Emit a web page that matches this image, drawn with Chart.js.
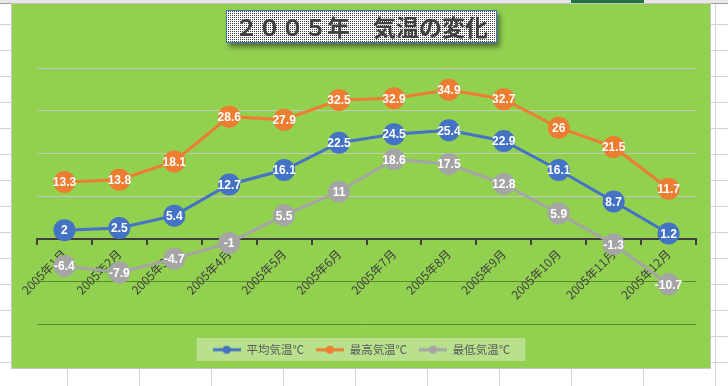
<!DOCTYPE html>
<html>
<head>
<meta charset="utf-8">
<script src="https://cdn.jsdelivr.net/npm/chart.js@4"></script>
<style>
  html, body { margin: 0; padding: 0; }
  body {
    width: 728px; height: 386px; overflow: hidden; position: relative;
    background-color: #fff;
    background-image:
      linear-gradient(to right, #d4d4d4 1px, transparent 1px),
      linear-gradient(to bottom, #d4d4d4 1px, transparent 1px);
    background-size: 72px 26px;
    background-position: 67px 24px;
  }
  #topbar { position: absolute; left: 0; top: 0; width: 728px; height: 3px; background: #e6e6e6; border-bottom: 1px solid #a0a0a0; }
  #sel { position: absolute; left: 571px; top: 0; width: 73px; height: 4px; background: #217346; }
  #frame {
    position: absolute; left: 11px; top: 3px; width: 698px; height: 364px;
    border: 1px solid #c6c6c6; background: #92d050;
  }
  #title {
    position: absolute; left: 226px; top: 10px; width: 269px; height: 31px;
    border: 1px solid #4472c4;
    background: #fff repeating-conic-gradient(#3a3a3a 0 25%, #fff 0 100%) 0 0 / 2px 2px;
    box-shadow: 3px 4px 5px rgba(0, 0, 0, 0.45);
    font: bold 23px "Noto Sans CJK JP", sans-serif;
    color: #404040; text-align: center; line-height: 31px;
  }
</style>
</head>
<body>
<div id="topbar"></div>
<div id="sel"></div>
<div id="frame"><canvas id="tempChart"></canvas></div>
<div id="title">２００５年　気温の変化</div>
<script>
const months = ['2005年1月', '2005年2月', '2005年3月', '2005年4月', '2005年5月', '2005年6月',
    '2005年7月', '2005年8月', '2005年9月', '2005年10月', '2005年11月', '2005年12月'];
const avgTemp = [2, 2.5, 5.4, 12.7, 16.1, 22.5, 24.5, 25.4, 22.9, 16.1, 8.7, 1.2];
const maxTemp = [13.3, 13.8, 18.1, 28.6, 27.9, 32.5, 32.9, 34.9, 32.7, 26, 21.5, 11.7];
const minTemp = [-6.4, -7.9, -4.7, -1, 5.5, 11, 18.6, 17.5, 12.8, 5.9, -1.3, -10.7];
const seriesNames = ['平均気温℃', '最高気温℃', '最低気温℃'];
const seriesColors = ['#4472c4', '#ed7d31', '#a5a5a5'];

// little line+dot picture for the legend
const legendIcon = (color) => {
    const c = document.createElement('canvas');
    c.width = 28; c.height = 10;
    const g = c.getContext('2d');
    g.strokeStyle = color; g.lineWidth = 3;
    g.beginPath(); g.moveTo(0, 5); g.lineTo(28, 5); g.stroke();
    g.fillStyle = color;
    g.beginPath(); g.arc(14, 5, 4, 0, Math.PI * 2); g.fill();
    return c;
};

const makeSet = (i, data) => ({
    label: seriesNames[i],
    data: data,
    borderColor: seriesColors[i],
    backgroundColor: seriesColors[i],
    borderWidth: 3,
    pointRadius: 11,
    pointHoverRadius: 11,
    pointBorderWidth: 0,
    tension: 0
});

const legendBox = {
    id: 'legendBox',
    afterLayout(chart) {
        // push the legend a bit lower and left, like the excel one
        chart.legend.top += 8;
        chart.legend.bottom += 8;
        chart.legend.left -= 5;
        chart.legend.right -= 5;
    },
    beforeDraw(chart) {
        const boxes = chart.legend.legendHitBoxes;
        if (!boxes || !boxes.length) return;
        const left = Math.min(...boxes.map(b => b.left));
        const right = Math.max(...boxes.map(b => b.left + b.width));
        const top = boxes[0].top;
        const ctx = chart.ctx;
        ctx.save();
        ctx.fillStyle = 'rgba(255,255,255,0.35)';
        ctx.fillRect(left - 16, Math.round(top + boxes[0].height / 2 - 11.5), right - left + 31, 23);
        ctx.restore();
    }
};

const valueLabels = {
    id: 'valueLabels',
    afterDatasetsDraw(chart) {
        const ctx = chart.ctx;
        ctx.save();
        ctx.font = 'bold 12px "Liberation Sans", Arial, sans-serif';
        ctx.fillStyle = '#ffffff';
        ctx.textAlign = 'center';
        ctx.textBaseline = 'middle';
        chart.data.datasets.forEach((ds, i) => {
            chart.getDatasetMeta(i).data.forEach((pt, j) => {
                ctx.fillText(String(ds.data[j]), pt.x, pt.y + 1);
            });
        });
        ctx.restore();
    }
};

new Chart(document.getElementById('tempChart'), {
    type: 'line',
    data: {
        labels: months,
        datasets: [makeSet(0, avgTemp), makeSet(1, maxTemp), makeSet(2, minTemp)]
    },
    plugins: [legendBox, valueLabels],
    options: {
        responsive: true,
        maintainAspectRatio: false,
        animation: false,
        events: [],
        layout: { padding: { left: 25, right: 14, top: 64, bottom: 10.5 } },
        scales: {
            x: {
                position: { y: 0 },
                offset: true,
                grid: {
                    offset: true,
                    drawOnChartArea: false,
                    drawTicks: true,
                    tickLength: 5,
                    color: '#404040',
                    lineWidth: 2
                },
                border: { display: true, color: '#404040', width: 2 },
                ticks: {
                    autoSkip: false,
                    minRotation: 45,
                    maxRotation: 45,
                    padding: 3,
                    color: '#404040',
                    font: { family: '"Noto Sans CJK JP", sans-serif', size: 12 }
                }
            },
            y: {
                min: -20,
                max: 40,
                ticks: { display: false, stepSize: 10 },
                border: { display: false },
                grid: {
                    drawTicks: false,
                    lineWidth: 1,
                    color: (c) => {
                        const v = c.tick.value;
                        if (v > 0) return 'rgba(200,200,200,0.9)';
                        if (v < 0) return '#5b8a2e';
                        return 'rgba(0,0,0,0)';
                    }
                }
            }
        },
        plugins: {
            title: { display: false },
            tooltip: { enabled: false },
            legend: {
                position: 'bottom',
                labels: {
                    usePointStyle: true,
                    pointStyleWidth: 28,
                    padding: 12,
                    color: '#595959',
                    font: { family: '"Noto Sans CJK JP", sans-serif', size: 11.5 },
                    generateLabels: (chart) =>
                        Chart.defaults.plugins.legend.labels.generateLabels(chart).map((item, i) => {
                            item.pointStyle = legendIcon(seriesColors[i]);
                            return item;
                        })
                }
            }
        }
    }
});
</script>
</body>
</html>
